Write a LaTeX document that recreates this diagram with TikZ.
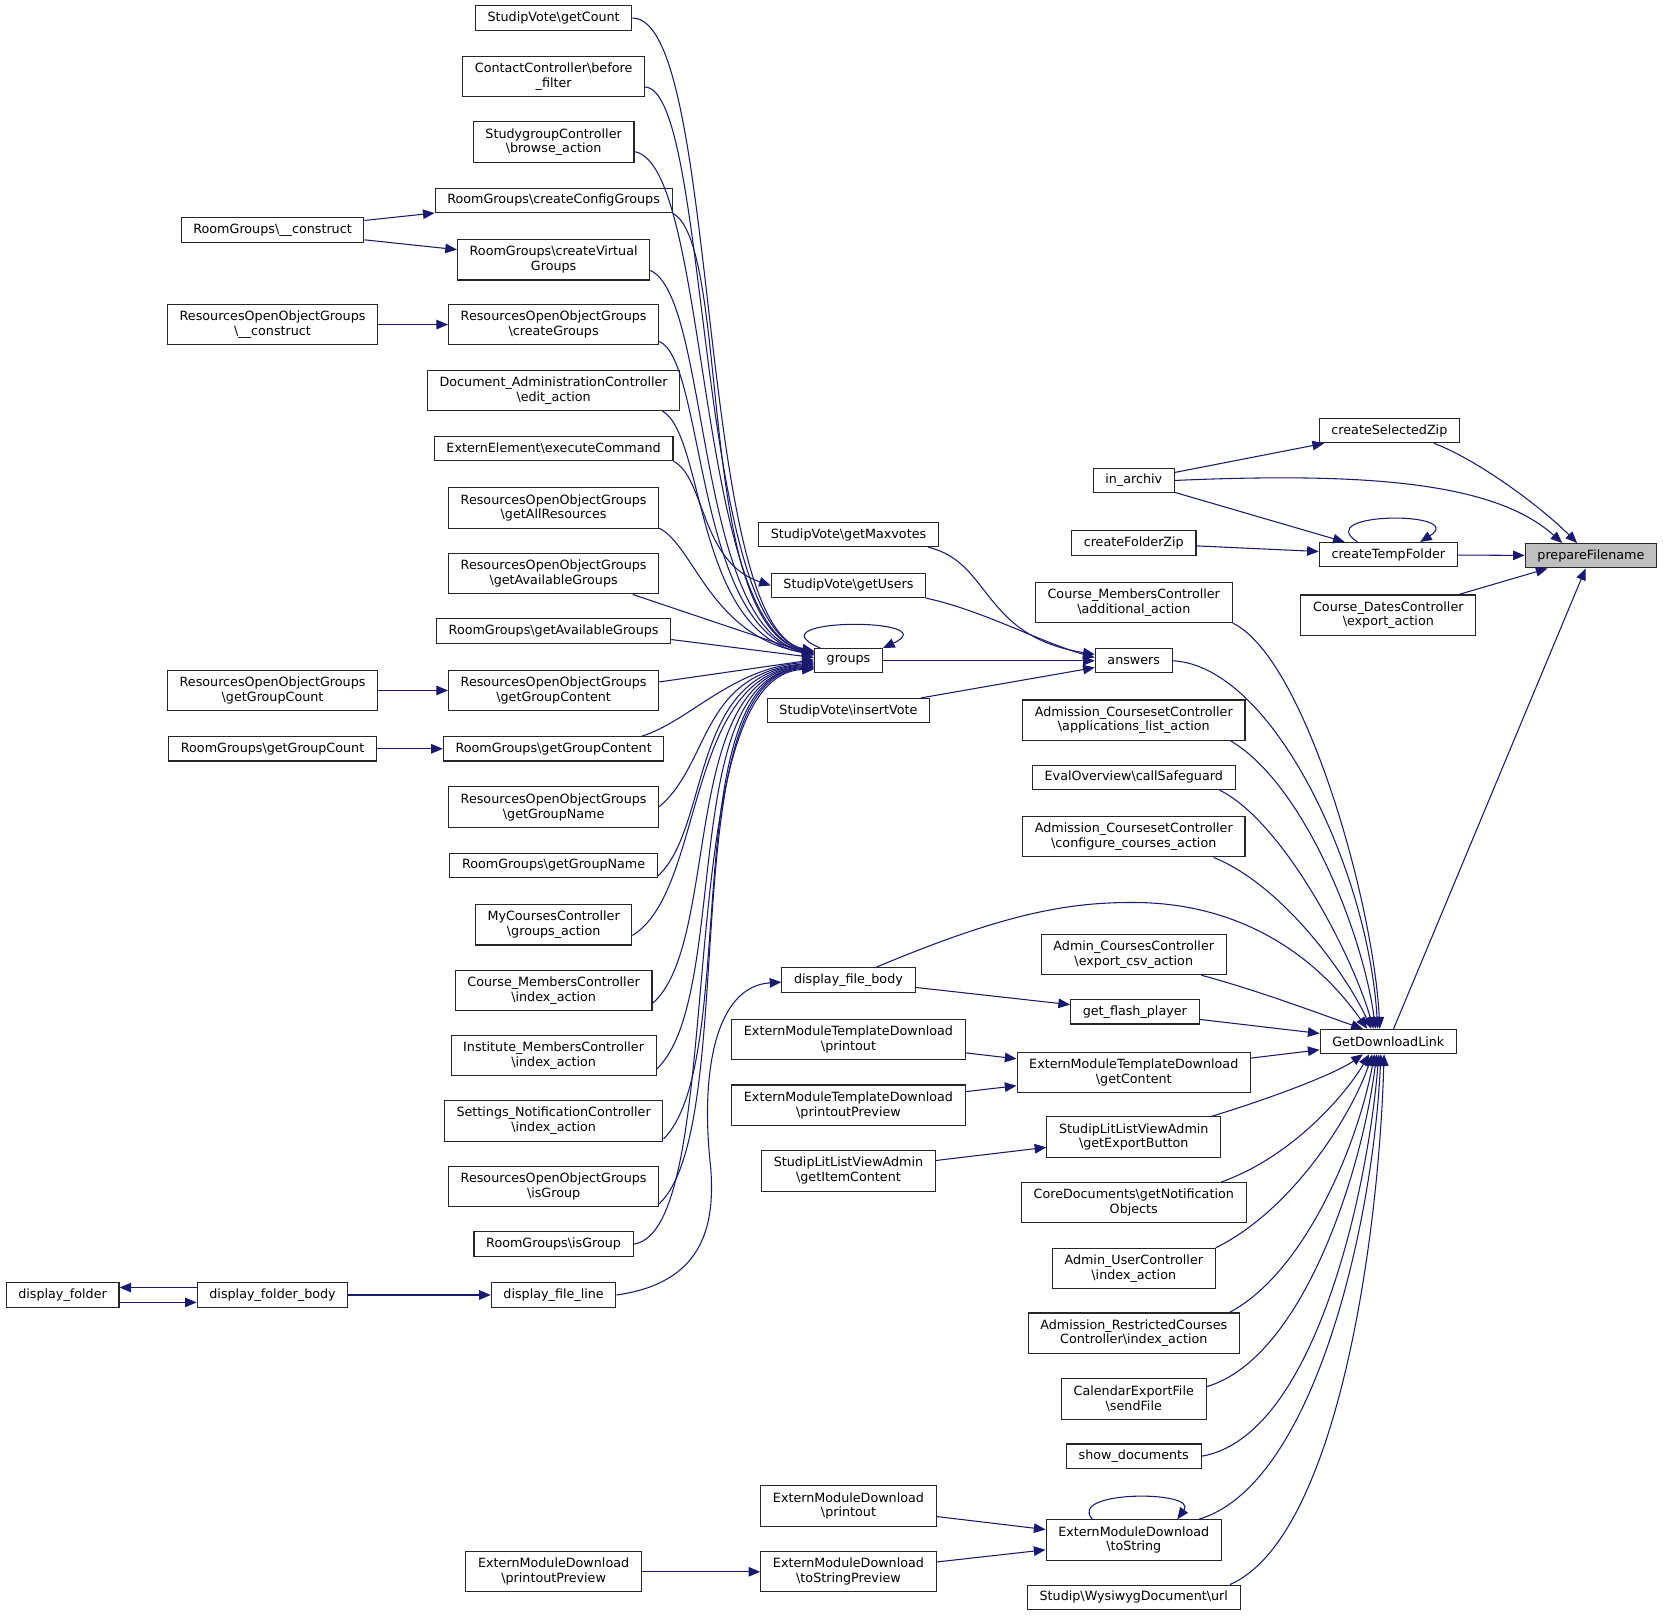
\documentclass[tikz,border=0pt]{standalone}
\usepackage{fontspec}
\setmainfont{DejaVu Sans}
\usetikzlibrary{arrows.meta}
\definecolor{callblue}{HTML}{191970}
\newcommand{\bks}{\textbackslash}

\begin{document}
\begin{tikzpicture}[x=1pt,y=-1pt,
  fn/.style={draw=black!85, line width=1pt, rectangle, align=center, inner xsep=11.5pt, inner ysep=2pt, minimum height=23pt, font=\fontsize{12}{14}\selectfont},
  fnn/.style={fn, minimum height=38pt},
  call/.style={callblue, line width=1pt, -{Triangle[length=11pt,width=9pt]}}]

\useasboundingbox (0,0) rectangle (1568,1525);

% right part
\node[fn, fill=black!25] (prepFile) at (1500,524) {prepareFilename};
\node[fn] (createSelZip) at (1310,406) {createSelectedZip};
\node[fn] (inArchiv) at (1069,453) {in\_archiv};
\node[fn] (createFolderZip) at (1069,512) {createFolderZip};
\node[fn] (createTempFolder) at (1309,523) {createTempFolder};
\node[fnn] (datesExport) at (1309,580) {Course\_DatesController\\\bks export\_action};
\node[fn] (getDlLink) at (1309,982) {GetDownloadLink};

\node[fnn] (membersAdd) at (1069,568) {Course\_MembersController\\\bks additional\_action};
\node[fn] (answers) at (1069,623) {answers};
\node[fnn] (applList) at (1069,679) {Admission\_CoursesetController\\\bks applications\_list\_action};
\node[fn] (evalSafe) at (1069,733) {EvalOverview\bks callSafeguard};
\node[fnn] (confCourses) at (1069,789) {Admission\_CoursesetController\\\bks configure\_courses\_action};
\node[fnn] (exportCsv) at (1069,900) {Admin\_CoursesController\\\bks export\_csv\_action};
\node[fn] (flashPlayer) at (1070,954) {get\_flash\_player};
\node[fnn] (tplContent) at (1069,1011) {ExternModuleTemplateDownload\\\bks getContent};
\node[fnn] (litExport) at (1069,1072) {StudipLitListViewAdmin\\\bks getExportButton};
\node[fnn] (coreNotif) at (1069,1134) {CoreDocuments\bks getNotification\\Objects};
\node[fnn] (userIndex) at (1069,1196) {Admin\_UserController\\\bks index\_action};
\node[fnn] (restrIndex) at (1069,1257) {Admission\_RestrictedCourses\\Controller\bks index\_action};
\node[fnn] (calSend) at (1069,1319) {CalendarExportFile\\\bks sendFile};
\node[fn] (showDocs) at (1069,1373) {show\_documents};
\node[fnn] (dlToString) at (1069,1452) {ExternModuleDownload\\\bks toString};
\node[fn] (wysiwygUrl) at (1069,1506) {Studip\bks WysiwygDocument\bks url};

% middle part
\node[fn] (voteMax) at (800,504) {StudipVote\bks getMaxvotes};
\node[fn] (voteUsers) at (800,552) {StudipVote\bks getUsers};
\node[fn] (groups) at (800,623) {groups};
\node[fn] (voteInsert) at (800,670) {StudipVote\bks insertVote};
\node[fn] (fileBody) at (800,924) {display\_file\_body};
\node[fnn] (tplPrintout) at (800,980) {ExternModuleTemplateDownload\\\bks printout};
\node[fnn] (tplPreview) at (800,1042) {ExternModuleTemplateDownload\\\bks printoutPreview};
\node[fnn] (litItem) at (800,1104) {StudipLitListViewAdmin\\\bks getItemContent};
\node[fnn] (dlPrintout) at (800,1420) {ExternModuleDownload\\\bks printout};
\node[fnn] (dlStrPreview) at (800,1482) {ExternModuleDownload\\\bks toStringPreview};

% left part
\node[fn] (voteCount) at (522,17) {StudipVote\bks getCount};
\node[fnn] (contactBefore) at (522,72) {ContactController\bks before\\\_filter};
\node[fnn] (sgBrowse) at (522,134) {StudygroupController\\\bks browse\_action};
\node[fn] (rgConfig) at (522,189) {RoomGroups\bks createConfigGroups};
\node[fnn] (rgVirtual) at (522,245) {RoomGroups\bks createVirtual\\Groups};
\node[fnn] (roogCreate) at (522,306) {ResourcesOpenObjectGroups\\\bks createGroups};
\node[fnn] (docEdit) at (522,368) {Document\_AdministrationController\\\bks edit\_action};
\node[fn] (extExec) at (522,423) {ExternElement\bks executeCommand};
\node[fnn] (roogAll) at (522,479) {ResourcesOpenObjectGroups\\\bks getAllResources};
\node[fnn] (roogAvail) at (522,541) {ResourcesOpenObjectGroups\\\bks getAvailableGroups};
\node[fn] (rgAvail) at (522,595) {RoomGroups\bks getAvailableGroups};
\node[fnn] (roogContent) at (522,651) {ResourcesOpenObjectGroups\\\bks getGroupContent};
\node[fn] (rgContent) at (522,706) {RoomGroups\bks getGroupContent};
\node[fnn] (roogName) at (522,761) {ResourcesOpenObjectGroups\\\bks getGroupName};
\node[fn] (rgName) at (522,816) {RoomGroups\bks getGroupName};
\node[fnn] (myGroups) at (522,872) {MyCoursesController\\\bks groups\_action};
\node[fnn] (membersIndex) at (522,934) {Course\_MembersController\\\bks index\_action};
\node[fnn] (instIndex) at (522,995) {Institute\_MembersController\\\bks index\_action};
\node[fnn] (notifIndex) at (522,1057) {Settings\_NotificationController\\\bks index\_action};
\node[fnn] (roogIs) at (522,1119) {ResourcesOpenObjectGroups\\\bks isGroup};
\node[fn] (rgIs) at (522,1173) {RoomGroups\bks isGroup};
\node[fn] (fileLine) at (522,1221) {display\_file\_line};
\node[fnn] (dlPreview) at (522,1482) {ExternModuleDownload\\\bks printoutPreview};

\node[fn] (rgConstruct) at (257,217) {RoomGroups\bks \_\_construct};
\node[fnn] (roogConstruct) at (257,306) {ResourcesOpenObjectGroups\\\bks \_\_construct};
\node[fnn] (roogCount) at (257,651) {ResourcesOpenObjectGroups\\\bks getGroupCount};
\node[fn] (rgCount) at (257,706) {RoomGroups\bks getGroupCount};
\node[fn] (folderBody) at (257,1221) {display\_folder\_body};
\node[fn] (folder) at (59,1221) {display\_folder};

% calls of prepareFilename
\draw[call] ([xshift=42pt]createSelZip.south) .. controls (1390,432) and (1450,475) .. ([xshift=-13pt]prepFile.north);
\draw[call] (inArchiv.east) .. controls (1290,445) and (1410,455) .. ([xshift=-27pt]prepFile.north);
\draw[call] (createTempFolder) -- (prepFile);
\draw[call] ([xshift=-29pt]createTempFolder.north) .. controls (1235,482) and (1385,482) .. ([xshift=30pt]createTempFolder.north);
\draw[call] (datesExport) -- (prepFile);
\draw[call] (getDlLink) -- (prepFile);
\draw[call] (inArchiv) -- (createSelZip);
\draw[call] (inArchiv) -- (createTempFolder);
\draw[call] (createFolderZip) -- (createTempFolder);

% calls of GetDownloadLink
\draw[call] (membersAdd.south east) .. controls (1230,620) and (1295,850) .. ([xshift=-8pt]getDlLink.north);
\draw[call] (answers.east) .. controls (1200,628) and (1290,820) .. ([xshift=-10pt]getDlLink.north);
\draw[call] ([xshift=-14pt]applList.south east) .. controls (1230,740) and (1285,880) .. ([xshift=-12pt]getDlLink.north);
\draw[call] ([xshift=-15pt]evalSafe.south east) .. controls (1210,775) and (1275,900) .. ([xshift=-14pt]getDlLink.north);
\draw[call] ([xshift=-30pt]confCourses.south east) .. controls (1210,835) and (1270,920) .. ([xshift=-16pt]getDlLink.north);
\draw[call] ([xshift=26pt]fileBody.north) .. controls (950,860) and (1010,850) .. (1075,851) .. controls (1170,853) and (1240,900) .. ([xshift=-20pt]getDlLink.north);
\draw[call] ([xshift=-24pt]exportCsv.south east) .. controls (1190,935) and (1250,958) .. ([xshift=-24pt]getDlLink.north);
\draw[call] (flashPlayer) -- (getDlLink);
\draw[call] (tplContent) -- (getDlLink);
\draw[call] ([xshift=-9pt]litExport.north east) .. controls (1200,1035) and (1260,1012) .. ([xshift=-24pt]getDlLink.south);
\draw[call] ([xshift=-24pt]coreNotif.north east) .. controls (1220,1090) and (1270,1030) .. ([xshift=-18pt]getDlLink.south);
\draw[call] (userIndex.north east) .. controls (1220,1140) and (1275,1050) .. ([xshift=-15pt]getDlLink.south);
\draw[call] ([xshift=-10pt]restrIndex.north east) .. controls (1230,1200) and (1280,1080) .. ([xshift=-13pt]getDlLink.south);
\draw[call] ([yshift=-8pt]calSend.north east) .. controls (1230,1280) and (1285,1100) .. ([xshift=-11pt]getDlLink.south);
\draw[call] (showDocs.east) .. controls (1240,1355) and (1290,1120) .. ([xshift=-9pt]getDlLink.south);
\draw[call] ([xshift=-22pt]dlToString.north east) .. controls (1240,1400) and (1295,1150) .. ([xshift=-7pt]getDlLink.south);
\draw[call] ([xshift=-10pt]wysiwygUrl.north east) .. controls (1260,1450) and (1300,1170) .. ([xshift=-4pt]getDlLink.south);
\draw[call] ([xshift=-39pt]dlToString.north) .. controls (1005,1405) and (1130,1405) .. ([xshift=41pt]dlToString.north);
\draw[call] (fileBody) -- (flashPlayer);
\draw[call] (tplPrintout) -- (tplContent);
\draw[call] (tplPreview) -- (tplContent);
\draw[call] (litItem) -- (litExport);
\draw[call] (dlPrintout) -- (dlToString);
\draw[call] (dlStrPreview) -- (dlToString);
\draw[call] (dlPreview) -- (dlStrPreview);

% calls of answers
\draw[call] (groups) -- (answers);
\draw[call] ([xshift=-10pt]voteMax.south east) .. controls (935,530) and (925,600) .. ([yshift=6pt]answers.west);
\draw[call] (voteUsers.south east) .. controls (925,575) and (980,605) .. ([yshift=3pt]answers.west);
\draw[call] (voteInsert) -- (answers);
\draw[call] (extExec.south east) .. controls (665,450) and (660,530) .. (voteUsers.west);
\draw[call] ([xshift=6pt]groups.north west) .. controls (705,582) and (895,582) .. (groups.north east);

% calls of groups
\draw[call] (voteCount.east) .. controls (680,17) and (655,590) .. ([yshift=9pt]groups.west);
\draw[call] ([yshift=-10pt]contactBefore.east) .. controls (670,85) and (655,590) .. ([yshift=9pt]groups.west);
\draw[call] ([yshift=-9pt]sgBrowse.east) .. controls (670,155) and (655,592) .. ([yshift=8pt]groups.west);
\draw[call] (rgConfig.south east) .. controls (690,230) and (655,592) .. ([yshift=8pt]groups.west);
\draw[call] ([yshift=-10pt]rgVirtual.east) .. controls (670,280) and (655,594) .. ([yshift=7pt]groups.west);
\draw[call] ([yshift=-16pt]roogCreate.east) .. controls (665,340) and (655,596) .. ([yshift=7pt]groups.west);
\draw[call] ([xshift=-17pt]docEdit.south east) .. controls (665,410) and (655,598) .. ([yshift=6pt]groups.west);
\draw[call] ([yshift=-19pt]roogAll.east) .. controls (655,515) and (670,600) .. ([yshift=6pt]groups.west);
\draw[call] ([xshift=-25pt]roogAvail.south east) -- ([yshift=5pt]groups.west);
\draw[call] ([yshift=-8pt]rgAvail.east) -- ([yshift=3pt]groups.west);
\draw[call] ([yshift=8pt]roogContent.east) -- ([yshift=1pt]groups.west);
\draw[call] ([xshift=-21pt]rgContent.north east) .. controls (650,680) and (690,630) .. ([yshift=-1pt]groups.west);
\draw[call] ([yshift=-19pt]roogName.north east) .. controls (670,720) and (660,635) .. ([yshift=-2pt]groups.west);
\draw[call] ([yshift=-10pt]rgName.east) .. controls (670,780) and (650,635) .. ([yshift=-3pt]groups.west);
\draw[call] ([yshift=-10pt]myGroups.east) .. controls (665,840) and (645,635) .. ([yshift=-4pt]groups.west);
\draw[call] ([yshift=-12pt]membersIndex.east) .. controls (680,890) and (640,635) .. ([yshift=-5pt]groups.west);
\draw[call] ([yshift=-13pt]instIndex.east) .. controls (690,940) and (638,635) .. ([yshift=-6pt]groups.west);
\draw[call] ([yshift=-17pt]notifIndex.east) .. controls (700,1000) and (635,635) .. ([yshift=-6pt]groups.west);
\draw[call] ([yshift=-16pt]roogIs.east) .. controls (700,1060) and (632,635) .. ([yshift=-7pt]groups.west);
\draw[call] (rgIs.east) .. controls (690,1160) and (628,635) .. ([yshift=-8pt]groups.west);
\draw[call] (fileLine.east) .. controls (660,1210) and (675,1160) .. (670,1100) .. controls (660,1010) and (675,930) .. ([yshift=-2pt]fileBody.west);

% left callers
\draw[call] (rgConstruct) -- (rgConfig);
\draw[call] (rgConstruct) -- (rgVirtual);
\draw[call] (roogConstruct) -- (roogCreate);
\draw[call] (roogCount) -- (roogContent);
\draw[call] (rgCount) -- (rgContent);
\draw[call] (folderBody) -- (fileLine);
\draw[call] ([yshift=7pt]folderBody.west) -- ([yshift=7pt]folder.east);
\draw[call] ([yshift=-7pt]folder.east) -- ([yshift=-7pt]folderBody.west);
\end{tikzpicture}
\end{document}
